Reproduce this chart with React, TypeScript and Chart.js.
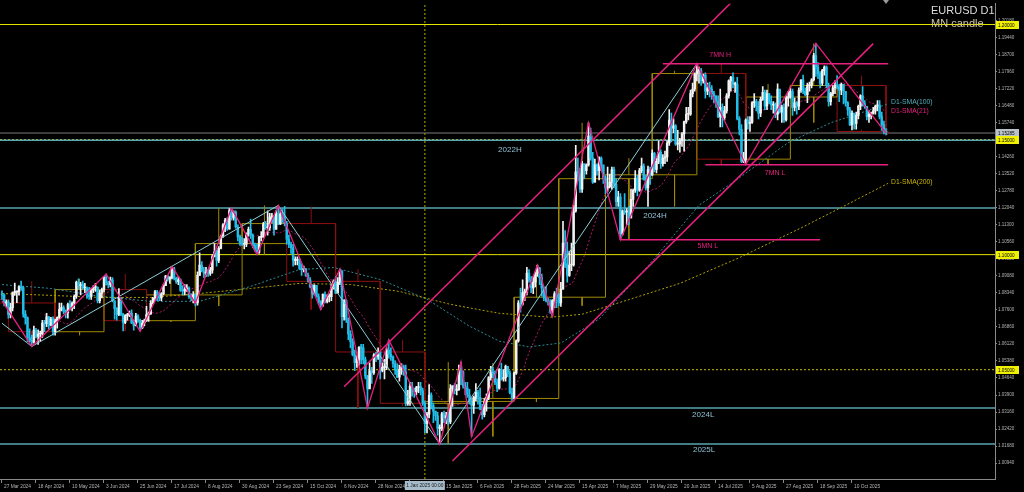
import { useEffect, useRef } from 'react';
import { Chart, registerables } from 'chart.js';

Chart.register(...registerables);

// ---------- axes ----------
const TIME_TICK_BARS = [0, 16, 32, 48, 64, 80, 96, 112, 128, 144, 160, 176, 192, 208, 224, 240, 256, 272, 288, 304, 320, 336, 352, 368, 384, 400];
const TIME_TICK_LABELS = [
  '27 Mar 2024', '18 Apr 2024', '10 May 2024', '3 Jun 2024', '25 Jun 2024', '17 Jul 2024', '8 Aug 2024', '30 Aug 2024',
  '23 Sep 2024', '15 Oct 2024', '6 Nov 2024', '28 Nov 2024', '20 Dec 2024', '15 Jan 2025', '6 Feb 2025', '28 Feb 2025',
  '24 Mar 2025', '15 Apr 2025', '7 May 2025', '29 May 2025', '20 Jun 2025', '14 Jul 2025', '5 Aug 2025', '27 Aug 2025',
  '18 Sep 2025', '10 Oct 2025',
];
const PRICE_TICKS = [
  1.0094, 1.0168, 1.0242, 1.0316, 1.039, 1.0464, 1.0538, 1.0612, 1.0686, 1.076, 1.0834, 1.0908, 1.0982, 1.1056,
  1.113, 1.1204, 1.1278, 1.1352, 1.1426, 1.15, 1.1574, 1.1648, 1.1722, 1.1796, 1.187, 1.1944, 1.2018,
];
const X_MIN = -0.94;
const X_MAX = 467.3;
const Y_MIN = 1.0025;
const Y_MAX = 1.20905;

// ---------- daily candles: [high, low, close] ----------
const FIRST_OPEN = 1.083;
const D_2024_03 = [[1.0843, 1.0805, 1.0825], [1.083, 1.0777, 1.079], [1.0803, 1.0773, 1.0795]];
const D_2024_04 = [
  [1.0802, 1.0724, 1.074], [1.0788, 1.0725, 1.077], [1.0838, 1.0755, 1.0835], [1.0876, 1.0823, 1.0837], [1.0843, 1.0791, 1.0838],
  [1.0864, 1.0824, 1.086], [1.0885, 1.0845, 1.0857], [1.0862, 1.0728, 1.0742], [1.0757, 1.0698, 1.0725], [1.073, 1.0622, 1.064],
  [1.0678, 1.062, 1.0625], [1.065, 1.0601, 1.062], [1.069, 1.0615, 1.0672], [1.068, 1.0638, 1.0645], [1.0673, 1.061, 1.0655],
  [1.0668, 1.0624, 1.0655], [1.0714, 1.064, 1.0703], [1.0715, 1.0665, 1.07], [1.0745, 1.0687, 1.073], [1.0732, 1.0675, 1.0693],
  [1.0728, 1.069, 1.072], [1.073, 1.065, 1.0665],
];
const D_2024_05 = [
  [1.072, 1.065, 1.0712], [1.073, 1.068, 1.0727], [1.079, 1.072, 1.0762], [1.079, 1.0755, 1.077], [1.0778, 1.0743, 1.0753],
  [1.076, 1.0725, 1.0748], [1.079, 1.0724, 1.0783], [1.08, 1.076, 1.077], [1.0795, 1.0755, 1.079], [1.0825, 1.0765, 1.0819],
  [1.0885, 1.081, 1.088], [1.0895, 1.085, 1.0865], [1.088, 1.0825, 1.087], [1.0885, 1.085, 1.0855], [1.0875, 1.0835, 1.0855],
  [1.086, 1.081, 1.0823], [1.0858, 1.0805, 1.0818], [1.0855, 1.0805, 1.0847], [1.0865, 1.0835, 1.0857], [1.0875, 1.084, 1.0858],
  [1.086, 1.079, 1.08], [1.0845, 1.079, 1.0833], [1.0855, 1.0812, 1.0848],
];
const D_2024_06 = [
  [1.0905, 1.0838, 1.0903], [1.0916, 1.0867, 1.0878], [1.0885, 1.0855, 1.087], [1.0902, 1.086, 1.089], [1.09, 1.0795, 1.08],
  [1.078, 1.072, 1.0765], [1.077, 1.0715, 1.074], [1.0852, 1.0735, 1.081], [1.0815, 1.0735, 1.074], [1.0745, 1.0668, 1.0705],
  [1.074, 1.07, 1.0735], [1.0745, 1.0715, 1.074], [1.0755, 1.073, 1.0745], [1.076, 1.07, 1.0703], [1.0715, 1.0672, 1.0692],
  [1.0745, 1.069, 1.0733], [1.074, 1.0705, 1.0715], [1.072, 1.0668, 1.0682], [1.0715, 1.0678, 1.0703], [1.072, 1.069, 1.0713],
];
const D_2024_07 = [
  [1.0775, 1.071, 1.074], [1.075, 1.071, 1.0742], [1.08, 1.074, 1.079], [1.0815, 1.0785, 1.081], [1.0845, 1.08, 1.084],
  [1.0845, 1.08, 1.0825], [1.0835, 1.08, 1.0812], [1.0835, 1.08, 1.083], [1.087, 1.0825, 1.0865], [1.091, 1.0865, 1.0907],
  [1.091, 1.0885, 1.0893], [1.0905, 1.0875, 1.09], [1.0948, 1.0895, 1.0938], [1.0945, 1.089, 1.0897], [1.0902, 1.0875, 1.0883],
  [1.0905, 1.087, 1.089], [1.0895, 1.084, 1.0845], [1.0865, 1.0825, 1.0842], [1.087, 1.0825, 1.085], [1.087, 1.084, 1.0855],
  [1.086, 1.081, 1.0817], [1.083, 1.08, 1.0815], [1.084, 1.079, 1.0825],
];
const D_2024_08 = [
  [1.083, 1.0777, 1.079], [1.0925, 1.078, 1.091], [1.1008, 1.091, 1.0955], [1.097, 1.0925, 1.093], [1.0945, 1.09, 1.092],
  [1.0945, 1.0905, 1.092], [1.0935, 1.0905, 1.0918], [1.0945, 1.091, 1.0933], [1.1, 1.092, 1.0992], [1.1048, 1.099, 1.1012],
  [1.102, 1.095, 1.0975], [1.1035, 1.0965, 1.1027], [1.1085, 1.1025, 1.108], [1.1135, 1.1075, 1.113], [1.1158, 1.11, 1.115],
  [1.116, 1.1105, 1.1112], [1.12, 1.111, 1.1192], [1.1202, 1.115, 1.116], [1.119, 1.115, 1.1185], [1.119, 1.1115, 1.112],
  [1.113, 1.106, 1.1077], [1.1085, 1.104, 1.1048],
];
const D_2024_09 = [
  [1.1075, 1.104, 1.1045], [1.107, 1.1025, 1.1045], [1.1095, 1.1035, 1.109], [1.112, 1.108, 1.111], [1.1155, 1.107, 1.1085],
  [1.109, 1.103, 1.104], [1.105, 1.1015, 1.102], [1.1045, 1.1001, 1.101], [1.108, 1.1005, 1.1075], [1.11, 1.106, 1.1077],
  [1.114, 1.1075, 1.1133], [1.1145, 1.111, 1.1117], [1.119, 1.1085, 1.1117], [1.118, 1.1105, 1.1163], [1.118, 1.114, 1.1163],
  [1.117, 1.1085, 1.111], [1.119, 1.1115, 1.118], [1.1214, 1.113, 1.1133], [1.119, 1.113, 1.1177], [1.12, 1.114, 1.1165],
  [1.121, 1.1125, 1.1135],
];
const D_2024_10 = [
  [1.1145, 1.1045, 1.1067], [1.1085, 1.103, 1.1045], [1.1055, 1.1005, 1.103], [1.1045, 1.095, 1.0975], [1.099, 1.0955, 1.0975],
  [1.099, 1.0955, 1.098], [1.0985, 1.0935, 1.094], [1.096, 1.091, 1.0935], [1.095, 1.0925, 1.0937], [1.094, 1.0905, 1.091],
  [1.092, 1.088, 1.089], [1.09, 1.0855, 1.086], [1.087, 1.0811, 1.083], [1.087, 1.0825, 1.0867], [1.0865, 1.0815, 1.0817],
  [1.083, 1.0785, 1.0795], [1.08, 1.0761, 1.078], [1.083, 1.0775, 1.0827], [1.0838, 1.079, 1.0797], [1.0825, 1.079, 1.0817],
  [1.083, 1.0795, 1.0817], [1.087, 1.08, 1.0857], [1.089, 1.085, 1.0883],
];
const D_2024_11 = [
  [1.0905, 1.083, 1.0833], [1.09, 1.086, 1.088], [1.0937, 1.087, 1.093], [1.093, 1.0682, 1.073], [1.0805, 1.0715, 1.08],
  [1.0805, 1.0705, 1.0718], [1.0725, 1.063, 1.0655], [1.067, 1.0595, 1.0622], [1.0635, 1.056, 1.0565], [1.0585, 1.0496, 1.053],
  [1.056, 1.051, 1.0545], [1.06, 1.052, 1.0597], [1.061, 1.0525, 1.0595], [1.061, 1.0525, 1.0543], [1.0555, 1.046, 1.0472],
  [1.0475, 1.0333, 1.0417], [1.053, 1.0425, 1.0495], [1.051, 1.044, 1.0487], [1.057, 1.048, 1.0565], [1.0575, 1.0535, 1.0555],
  [1.0595, 1.0545, 1.0577],
];
const D_2024_12 = [
  [1.058, 1.046, 1.0497], [1.053, 1.049, 1.051], [1.0545, 1.046, 1.051], [1.0595, 1.05, 1.0585], [1.063, 1.055, 1.0567],
  [1.0595, 1.054, 1.0555], [1.056, 1.051, 1.0527], [1.054, 1.048, 1.0497], [1.0525, 1.0465, 1.0467], [1.052, 1.045, 1.0502],
  [1.0525, 1.048, 1.0512], [1.052, 1.0475, 1.049], [1.052, 1.0343, 1.0352], [1.041, 1.0345, 1.0362], [1.0445, 1.0345, 1.0428],
  [1.0445, 1.0385, 1.0407], [1.042, 1.038, 1.0405], [1.0428, 1.039, 1.0422], [1.0445, 1.04, 1.0427], [1.0445, 1.039, 1.0408],
  [1.042, 1.0345, 1.0354],
];
const D_2025_01 = [
  [1.0365, 1.0225, 1.0265], [1.0315, 1.0225, 1.0307], [1.0435, 1.029, 1.039], [1.04, 1.033, 1.0343], [1.0355, 1.027, 1.032],
  [1.032, 1.028, 1.03], [1.0315, 1.0215, 1.0245], [1.026, 1.0177, 1.0245], [1.0315, 1.0235, 1.0308], [1.032, 1.027, 1.029],
  [1.0315, 1.0265, 1.03], [1.0315, 1.026, 1.0273], [1.0435, 1.0265, 1.0418], [1.043, 1.034, 1.043], [1.044, 1.0395, 1.041],
  [1.0435, 1.039, 1.0413], [1.052, 1.041, 1.0495], [1.0533, 1.0435, 1.0492], [1.0495, 1.042, 1.043], [1.0445, 1.039, 1.042],
  [1.0445, 1.038, 1.039], [1.0415, 1.035, 1.0362],
];
const D_2025_02 = [
  [1.0375, 1.021, 1.0345], [1.0385, 1.031, 1.038], [1.044, 1.0365, 1.0403], [1.041, 1.035, 1.038], [1.042, 1.0325, 1.033],
  [1.035, 1.0285, 1.0305], [1.0375, 1.0295, 1.036], [1.0395, 1.032, 1.038], [1.047, 1.037, 1.0465], [1.0515, 1.0455, 1.049],
  [1.051, 1.0465, 1.0485], [1.0495, 1.0435, 1.0445], [1.046, 1.0405, 1.042], [1.0505, 1.0415, 1.05], [1.0529, 1.0455, 1.046],
  [1.05, 1.045, 1.0465], [1.052, 1.045, 1.0515], [1.0515, 1.047, 1.0485], [1.0495, 1.0395, 1.04], [1.042, 1.036, 1.0375],
];
const D_2025_03 = [
  [1.049, 1.0375, 1.0485], [1.063, 1.048, 1.0625], [1.08, 1.062, 1.079], [1.0855, 1.075, 1.0785], [1.089, 1.078, 1.0835],
  [1.085, 1.08, 1.0835], [1.0945, 1.0825, 1.092], [1.0935, 1.088, 1.089], [1.0905, 1.0835, 1.0855], [1.0905, 1.083, 1.088],
  [1.0925, 1.086, 1.092], [1.0955, 1.0905, 1.0942], [1.0945, 1.087, 1.09], [1.0915, 1.082, 1.0855], [1.086, 1.08, 1.0815],
  [1.086, 1.0795, 1.08], [1.081, 1.078, 1.079], [1.0805, 1.0745, 1.0755], [1.0805, 1.0733, 1.08], [1.084, 1.077, 1.083],
  [1.0855, 1.077, 1.0815],
];
const D_2025_04 = [
  [1.083, 1.0778, 1.079], [1.088, 1.0775, 1.085], [1.1145, 1.085, 1.105], [1.1105, 1.0945, 1.096], [1.1055, 1.088, 1.091],
  [1.1015, 1.0905, 1.0955], [1.105, 1.093, 1.0955], [1.1215, 1.095, 1.119], [1.1475, 1.1185, 1.136], [1.142, 1.132, 1.135],
  [1.1375, 1.127, 1.1285], [1.1405, 1.127, 1.1395], [1.1395, 1.133, 1.1365], [1.1395, 1.135, 1.139], [1.1573, 1.1385, 1.1515],
  [1.155, 1.141, 1.142], [1.1445, 1.131, 1.1315], [1.1415, 1.1315, 1.139], [1.1395, 1.1345, 1.1365], [1.1425, 1.1325, 1.142],
  [1.1425, 1.1365, 1.139], [1.138, 1.131, 1.133],
];
const D_2025_05 = [
  [1.134, 1.1265, 1.129], [1.138, 1.1275, 1.1295], [1.135, 1.129, 1.1315], [1.138, 1.1285, 1.137], [1.138, 1.129, 1.1305],
  [1.133, 1.121, 1.123], [1.1275, 1.121, 1.125], [1.1265, 1.1065, 1.109], [1.1195, 1.1085, 1.119], [1.1265, 1.1175, 1.1185],
  [1.12, 1.113, 1.1185], [1.121, 1.113, 1.116], [1.1285, 1.116, 1.124], [1.1285, 1.121, 1.128], [1.1365, 1.127, 1.133],
  [1.1345, 1.1255, 1.128], [1.1375, 1.1275, 1.1365], [1.142, 1.1355, 1.1385], [1.1395, 1.1325, 1.1325], [1.1345, 1.128, 1.129],
  [1.1385, 1.121, 1.137], [1.138, 1.1305, 1.1345],
];
const D_2025_06 = [
  [1.1455, 1.1345, 1.144], [1.1445, 1.136, 1.137], [1.142, 1.1355, 1.1405], [1.1495, 1.1395, 1.1445], [1.1455, 1.1375, 1.1395],
  [1.1435, 1.1385, 1.142], [1.145, 1.1395, 1.1425], [1.1495, 1.1405, 1.1485], [1.163, 1.1475, 1.1585], [1.1615, 1.149, 1.155],
  [1.159, 1.153, 1.156], [1.1565, 1.1475, 1.148], [1.154, 1.1455, 1.148], [1.1505, 1.1445, 1.1495], [1.153, 1.147, 1.1525],
  [1.158, 1.145, 1.1578], [1.164, 1.157, 1.161], [1.164, 1.1585, 1.161], [1.1715, 1.1605, 1.17], [1.1745, 1.1685, 1.172],
  [1.179, 1.171, 1.1785],
];
const D_2025_07 = [
  [1.183, 1.1755, 1.18], [1.1815, 1.1745, 1.18], [1.181, 1.1735, 1.1755], [1.1785, 1.1745, 1.178], [1.179, 1.168, 1.171],
  [1.1745, 1.1695, 1.1725], [1.175, 1.1685, 1.172], [1.1735, 1.1675, 1.17], [1.171, 1.166, 1.169], [1.169, 1.164, 1.1665],
  [1.169, 1.1595, 1.16], [1.172, 1.1555, 1.164], [1.1655, 1.1555, 1.1595], [1.1645, 1.1585, 1.1625], [1.17, 1.1615, 1.169],
  [1.176, 1.168, 1.1755], [1.1775, 1.171, 1.177], [1.179, 1.1725, 1.174], [1.175, 1.1705, 1.174], [1.177, 1.1585, 1.159],
  [1.16, 1.152, 1.1545], [1.1565, 1.14, 1.1405], [1.1445, 1.14, 1.1415],
];
const D_2025_08 = [
  [1.159, 1.1391, 1.1585], [1.16, 1.1545, 1.157], [1.16, 1.1535, 1.1575], [1.1665, 1.157, 1.166], [1.17, 1.164, 1.1665],
  [1.1675, 1.1625, 1.1645], [1.1665, 1.159, 1.1615], [1.1685, 1.16, 1.1675], [1.173, 1.167, 1.1705], [1.1715, 1.163, 1.1645],
  [1.1715, 1.163, 1.17], [1.17, 1.1655, 1.1665], [1.169, 1.163, 1.165], [1.1665, 1.1615, 1.165], [1.166, 1.1595, 1.161],
  [1.1742, 1.1585, 1.172], [1.1715, 1.1615, 1.162], [1.165, 1.1575, 1.164], [1.1655, 1.1575, 1.1585], [1.169, 1.158, 1.168],
  [1.171, 1.1645, 1.1685],
];
const D_2025_09 = [
  [1.1725, 1.168, 1.171], [1.172, 1.1605, 1.164], [1.168, 1.1625, 1.166], [1.1665, 1.161, 1.1645], [1.1725, 1.163, 1.1715],
  [1.176, 1.1705, 1.176], [1.178, 1.17, 1.171], [1.1725, 1.169, 1.1695], [1.1745, 1.166, 1.1735], [1.175, 1.171, 1.1735],
  [1.1765, 1.1725, 1.176], [1.1875, 1.1755, 1.1865], [1.1918, 1.1775, 1.1815], [1.1835, 1.1765, 1.1785], [1.1795, 1.1725, 1.1745],
  [1.1805, 1.1735, 1.18], [1.182, 1.178, 1.1815], [1.182, 1.1725, 1.1735], [1.1745, 1.1645, 1.1665], [1.1705, 1.165, 1.17],
  [1.1735, 1.169, 1.1725], [1.1755, 1.17, 1.1735],
];
const D_2025_10 = [
  [1.1778, 1.172, 1.173], [1.174, 1.1665, 1.1715], [1.1745, 1.1695, 1.174], [1.174, 1.1655, 1.171], [1.171, 1.1645, 1.166],
  [1.1665, 1.1605, 1.163], [1.164, 1.156, 1.1565], [1.1625, 1.1542, 1.1615], [1.161, 1.1545, 1.157], [1.162, 1.1545, 1.1605],
  [1.165, 1.159, 1.1645], [1.1695, 1.163, 1.169], [1.173, 1.1645, 1.1655], [1.167, 1.1635, 1.1645], [1.1645, 1.1585, 1.16],
  [1.1625, 1.1575, 1.161], [1.162, 1.159, 1.1615], [1.164, 1.161, 1.1625], [1.165, 1.161, 1.1645], [1.167, 1.1625, 1.165],
  [1.167, 1.159, 1.16], [1.162, 1.154, 1.1565], [1.158, 1.1525, 1.1535],
];
const D_2025_11 = [[1.1548, 1.152, 1.1528]];
const DAILY = [
  ...D_2024_03, ...D_2024_04, ...D_2024_05, ...D_2024_06, ...D_2024_07, ...D_2024_08, ...D_2024_09, ...D_2024_10,
  ...D_2024_11, ...D_2024_12, ...D_2025_01, ...D_2025_02, ...D_2025_03, ...D_2025_04, ...D_2025_05, ...D_2025_06,
  ...D_2025_07, ...D_2025_08, ...D_2025_09, ...D_2025_10, ...D_2025_11,
];

// ---------- monthly candles (MN candle) ----------
const MONTH_START = [-18, 3, 25, 48, 68, 91, 113, 134, 157, 178, 199, 221, 241, 262, 284, 306, 327, 350, 371, 393, 416];
const MONTH_END = [3, 25, 48, 68, 91, 113, 134, 157, 178, 199, 221, 241, 262, 284, 306, 327, 350, 371, 393, 416, 417];
const MONTH_OPEN = [1.0805, 1.079, 1.0665, 1.0848, 1.0713, 1.0825, 1.1048, 1.1135, 1.0884, 1.0577, 1.0354, 1.0362, 1.0375, 1.0815, 1.133, 1.1347, 1.1787, 1.1415, 1.1685, 1.1735, 1.1535];
const MONTH_HIGH = [1.0981, 1.0885, 1.0895, 1.0916, 1.0948, 1.1202, 1.1214, 1.1209, 1.0937, 1.063, 1.0533, 1.0529, 1.0955, 1.1573, 1.1419, 1.1799, 1.183, 1.1742, 1.1918, 1.1778, 1.1549];
const MONTH_LOW = [1.0768, 1.0601, 1.065, 1.0668, 1.0709, 1.0777, 1.1001, 1.0761, 1.0333, 1.0343, 1.0177, 1.021, 1.036, 1.0778, 1.1065, 1.121, 1.1391, 1.1391, 1.1574, 1.1542, 1.152];
const MONTH_CLOSE = [1.079, 1.0665, 1.0848, 1.0713, 1.0825, 1.1048, 1.1135, 1.0884, 1.0577, 1.0354, 1.0362, 1.0375, 1.0815, 1.133, 1.1347, 1.1787, 1.1415, 1.1685, 1.1735, 1.1535, 1.1528];

// ---------- moving averages (bar, value) ----------
const SMA100_BARS = [0, 23, 46, 70, 93, 117, 140, 156, 178, 200, 220, 234, 248, 263, 281, 305, 328, 344, 370, 390, 417];
const SMA100_VALUES = [1.087, 1.0853, 1.0819, 1.0797, 1.0797, 1.0862, 1.0935, 1.0944, 1.0892, 1.0806, 1.0689, 1.0624, 1.0599, 1.0616, 1.072, 1.0961, 1.1215, 1.1314, 1.1487, 1.1573, 1.1655];
const SMA200_BARS = [0, 23, 46, 70, 93, 117, 140, 164, 187, 211, 234, 258, 273, 291, 319, 347, 376, 399, 417];
const SMA200_VALUES = [1.0831, 1.0823, 1.0814, 1.0814, 1.0831, 1.0853, 1.0875, 1.087, 1.084, 1.0784, 1.0745, 1.0728, 1.0741, 1.0793, 1.0875, 1.0987, 1.1116, 1.1224, 1.131];

// ---------- zigzag swings ----------
const ZIGZAG_BARS = [0, 14, 49, 65, 80, 91, 108, 120, 130, 150, 159, 172, 182, 206, 216, 221, 252, 259, 276, 291, 327, 350, 383, 416];
const ZIGZAG_PRICES = [1.08, 1.0601, 1.0916, 1.0666, 1.0948, 1.079, 1.1202, 1.1001, 1.1214, 1.0761, 1.0937, 1.0333, 1.063, 1.0177, 1.0533, 1.021, 1.0955, 1.0733, 1.1573, 1.1065, 1.183, 1.1391, 1.1918, 1.1528];
const SWING_BARS = [0, 14, 130, 206, 327];
const SWING_PRICES = [1.0702, 1.0601, 1.1214, 1.0177, 1.183];

// ---------- channel ----------
const CHANNEL_UPPER_BARS = [161, 350];
const CHANNEL_UPPER_PRICES = [1.0426, 1.2158];
const CHANNEL_LOWER_BARS = [212, 410];
const CHANNEL_LOWER_PRICES = [1.0103, 1.1917];

// ---------- levels ----------
const LEVEL_NAMES = ['1.20', '2022H', '1.15', 'bid', '2024H', '1.10', '1.05', '2024L', '2025L'];
const LEVEL_PRICES = [1.2, 1.1497, 1.15, 1.15285, 1.1203, 1.1, 1.05, 1.0333, 1.0177];
const SEG_NAMES = ['7MN H', '7MN L', '5MN L'];
const SEG_PRICES = [1.183, 1.1391, 1.1065];
const SEG_FROM = [311, 331, 291];
const SEG_TO = [417, 417, 385];
const YEAR_LINE_BAR = 199;

const FONT = "'Liberation Sans', Arial, sans-serif";
const MAGENTA = '#e8207f';

export default function App() {
  const ref = useRef<HTMLCanvasElement>(null);

  useEffect(() => {
    const canvas = ref.current;
    if (!canvas) return;

    const closes = DAILY.map((d) => d[2]);
    const opens = closes.map((_, i) => (i === 0 ? FIRST_OPEN : closes[i - 1]));
    const isBull = (i: number) => closes[i] >= opens[i];
    const bodyData = DAILY.map((d, i) => ({ x: i, y: [opens[i], d[2]] }));
    const wickData = DAILY.map((d, i) => ({ x: i, y: [d[1], d[0]] }));
    const candleColor = (ctx: any) => (isBull(ctx.dataIndex) ? '#f2f2f2' : '#22bde8');

    const sma21 = closes.map((_, i) => {
      if (i < 20) return { x: i, y: null };
      let s = 0;
      for (let k = i - 20; k <= i; k++) s += closes[k];
      return { x: i, y: s / 21 };
    });

    const pts = (xs: number[], ys: number[]) => xs.map((x, k) => ({ x, y: ys[k] }));
    const line = (data: any[], color: string, width: number, order: number, dash: number[] = []) => ({
      type: 'line',
      data,
      borderColor: color,
      backgroundColor: color,
      borderWidth: width,
      borderDash: dash,
      pointRadius: 0,
      pointHoverRadius: 0,
      fill: false,
      tension: 0,
      spanGaps: false,
      order,
    });

    const levelStyle: Record<string, [string, number, number[]]> = {
      '1.20': ['#e6e600', 1, []],
      '2022H': ['#5aa6b2', 1.5, []],
      '1.15': ['#c8c000', 1, [2, 2]],
      bid: ['#7a7a7a', 1, []],
      '2024H': ['#5aa6b2', 1.5, []],
      '1.10': ['#e6e600', 1, []],
      '1.05': ['#c8c000', 1, [2, 2]],
      '2024L': ['#5aa6b2', 1.5, []],
      '2025L': ['#5aa6b2', 1.5, []],
    };

    const datasets: any[] = [];

    LEVEL_NAMES.forEach((n, k) => {
      const [c, w, d] = levelStyle[n];
      datasets.push(line([{ x: X_MIN, y: LEVEL_PRICES[k] }, { x: X_MAX, y: LEVEL_PRICES[k] }], c, w, 60, d));
    });
    datasets.push(line([{ x: YEAR_LINE_BAR, y: Y_MIN }, { x: YEAR_LINE_BAR, y: Y_MAX }], '#b4aa00', 1, 60, [2, 2]));

    MONTH_START.forEach((s, m) => {
      const e = MONTH_END[m];
      const o = MONTH_OPEN[m];
      const c = MONTH_CLOSE[m];
      const mid = (s + e) / 2;
      const top = Math.max(o, c);
      const bot = Math.min(o, c);
      const color = c >= o ? '#a08a00' : '#8e1010';
      datasets.push(
        line(
          [
            { x: s, y: o }, { x: e, y: o }, { x: e, y: c }, { x: s, y: c }, { x: s, y: o },
            { x: mid, y: null },
            { x: mid, y: top }, { x: mid, y: MONTH_HIGH[m] },
            { x: mid, y: null },
            { x: mid, y: bot }, { x: mid, y: MONTH_LOW[m] },
          ],
          color, 1, 50,
        ),
      );
    });

    datasets.push(line(pts(SMA200_BARS, SMA200_VALUES), '#b0a000', 1, 40, [2, 2]));
    datasets.push(line(pts(SMA100_BARS, SMA100_VALUES), '#2e8a94', 1, 40, [2, 2]));
    datasets.push(line(sma21, '#b8186a', 1, 40, [2, 2]));

    datasets.push({
      type: 'bar', data: wickData, backgroundColor: candleColor, barThickness: 1, grouped: false, order: 30, borderWidth: 0,
    });
    datasets.push({
      type: 'bar', data: bodyData, backgroundColor: candleColor, barThickness: 1.8, grouped: false, order: 29, borderWidth: 0, minBarLength: 1,
    });

    datasets.push(line(pts(SWING_BARS, SWING_PRICES), '#8ccfd8', 1, 10));
    datasets.push(line(pts(ZIGZAG_BARS, ZIGZAG_PRICES), MAGENTA, 1.3, 5));
    datasets.push(line(pts(CHANNEL_UPPER_BARS, CHANNEL_UPPER_PRICES), MAGENTA, 1.5, 5));
    datasets.push(line(pts(CHANNEL_LOWER_BARS, CHANNEL_LOWER_PRICES), MAGENTA, 1.5, 5));
    SEG_NAMES.forEach((_, k) => {
      datasets.push(line([{ x: SEG_FROM[k], y: SEG_PRICES[k] }, { x: SEG_TO[k], y: SEG_PRICES[k] }], MAGENTA, 1.5, 5));
    });

    const overlay = {
      id: 'overlay',
      afterDatasetsDraw(chart: any) {
        const { ctx, scales } = chart;
        const xs = scales.x;
        const ys = scales.y;
        const put = (t: string, bar: number, price: number, color: string, size: number, align: CanvasTextAlign = 'center') => {
          ctx.font = `${size}px ${FONT}`;
          ctx.fillStyle = color;
          ctx.textAlign = align;
          ctx.textBaseline = 'middle';
          ctx.fillText(t, xs.getPixelForValue(bar), ys.getPixelForValue(price));
        };
        ctx.save();
        put('2022H', 239, 1.1457, '#8fc0d2', 8);
        put('2024H', 307.3, 1.1168, '#8fc0d2', 8);
        put('2024L', 330, 1.0305, '#8fc0d2', 8);
        put('2025L', 330.4, 1.015, '#8fc0d2', 8);
        put('7MN H', 338, 1.1866, MAGENTA, 7);
        put('7MN L', 363.8, 1.1353, MAGENTA, 7);
        put('5MN L', 332.2, 1.1038, MAGENTA, 7);
        put('D1-SMA(100)', 418.4, 1.1664, '#4fb0bc', 6.8, 'left');
        put('D1-SMA(21)', 418.4, 1.1625, MAGENTA, 6.8, 'left');
        put('D1-SMA(200)', 418.4, 1.1314, '#c8b400', 6.8, 'left');
        ctx.restore();
      },
      afterDraw(chart: any) {
        const { ctx, scales } = chart;
        const ys = scales.y;
        const xs = scales.x;
        ctx.save();
        // price boxes on the right axis
        const box = (price: number, fill: string, text: string) => {
          const y = Math.round(ys.getPixelForValue(price));
          ctx.fillStyle = fill;
          ctx.fillRect(996, y - 4, 23, 8);
          ctx.fillStyle = '#000';
          ctx.font = `4.6px ${FONT}`;
          ctx.textAlign = 'left';
          ctx.textBaseline = 'middle';
          ctx.fillText(text, 998, y + 0.5);
        };
        box(1.2, '#f0f000', '1.20000');
        box(1.15285, '#b9c2c8', '1.15285');
        box(1.15, '#f0f000', '1.15000');
        box(1.1, '#f0f000', '1.10000');
        box(1.05, '#f0f000', '1.05000');
        // time label of the vertical line
        const vx = xs.getPixelForValue(YEAR_LINE_BAR);
        ctx.fillStyle = '#a7bccb';
        ctx.fillRect(vx - 20, 481, 40, 9);
        ctx.fillStyle = '#1a1a1a';
        ctx.font = `4.8px ${FONT}`;
        ctx.textAlign = 'center';
        ctx.textBaseline = 'middle';
        ctx.fillText('1 Jan 2025 00:00', vx, 485.5);
        // header
        ctx.textAlign = 'left';
        ctx.textBaseline = 'alphabetic';
        ctx.font = `11px ${FONT}`;
        ctx.fillStyle = '#dcdcdc';
        ctx.fillText('EURUSD D1', 931, 14);
        ctx.fillStyle = '#cfc3a0';
        ctx.fillText('MN candle', 931, 27);
        // shift marker
        ctx.fillStyle = '#9a9a9a';
        ctx.beginPath();
        ctx.moveTo(883, 0);
        ctx.lineTo(889, 0);
        ctx.lineTo(886, 4);
        ctx.closePath();
        ctx.fill();
        ctx.restore();
      },
    };

    const chart = new Chart(canvas, {
      type: 'bar',
      data: { datasets },
      options: {
        responsive: false,
        animation: false,
        events: [],
        layout: { padding: 0, autoPadding: false },
        plugins: { legend: { display: false }, tooltip: { enabled: false } },
        scales: {
          x: {
            type: 'linear',
            position: 'bottom',
            min: X_MIN,
            max: X_MAX,
            offset: false,
            afterBuildTicks: (s: any) => {
              s.ticks = TIME_TICK_BARS.map((v) => ({ value: v }));
            },
            afterFit: (s: any) => {
              s.height = 13;
            },
            ticks: {
              autoSkip: false,
              maxRotation: 0,
              minRotation: 0,
              align: 'start',
              labelOffset: 2,
              padding: 1,
              color: '#b4b4b4',
              font: { family: FONT, size: 4.8 },
              callback: (_v: any, i: number) => TIME_TICK_LABELS[i],
            },
            grid: { display: true, drawOnChartArea: false, drawTicks: true, tickLength: 4, color: '#8a8a8a', offset: false },
            border: { display: true, color: '#8a8a8a' },
          },
          y: {
            type: 'linear',
            position: 'right',
            min: Y_MIN,
            max: Y_MAX,
            afterBuildTicks: (s: any) => {
              s.ticks = PRICE_TICKS.map((v) => ({ value: v }));
            },
            afterFit: (s: any) => {
              s.width = 29;
            },
            ticks: {
              autoSkip: false,
              padding: 1,
              color: '#b4b4b4',
              font: { family: FONT, size: 4.5 },
              callback: (v: any) => Number(v).toFixed(5),
            },
            grid: { display: true, drawOnChartArea: false, drawTicks: true, tickLength: 2, color: '#8a8a8a' },
            border: { display: true, color: '#8a8a8a' },
          },
        },
      },
      plugins: [overlay],
    } as any);

    return () => chart.destroy();
  }, []);

  return (
    <div style={{ position: 'fixed', left: 0, top: 0, width: 1024, height: 492, background: '#000' }}>
      <canvas ref={ref} width={1024} height={492} style={{ display: 'block', width: 1024, height: 492 }} />
    </div>
  );
}
